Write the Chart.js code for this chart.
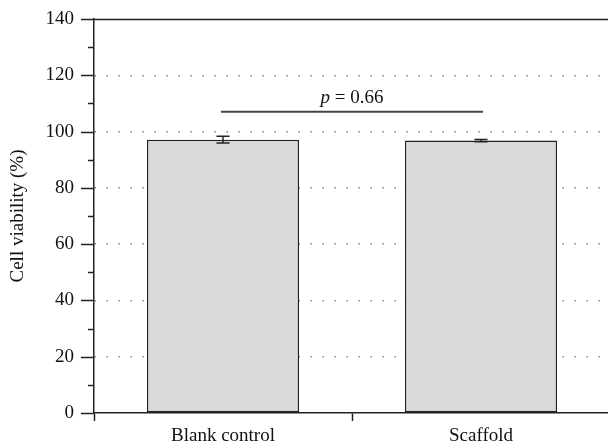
<!DOCTYPE html>
<html>
<head>
<meta charset="utf-8">
<script src="https://cdn.jsdelivr.net/npm/chart.js@4/dist/chart.umd.min.js"></script>
<style>
  html, body { margin: 0; padding: 0; background: #fff; overflow: hidden; }
  #wrap { width: 612px; height: 444px; }
</style>
</head>
<body>
<div id="wrap"><canvas id="chart"></canvas></div>
<script>
// data
const categories = ['Blank control', 'Scaffold'];
const viability = [97.1, 96.8];
const viabilityErr = [1.2, 0.4];
const yMin = 0;
const yMax = 140;
const pLevel = 107;
const pValue = '0.66';

const FONT = '"Liberation Serif", "Times New Roman", serif';
const INK = '#222';

// minor/major ticks on the left of the y axis, plus the solid top line
const axisTicks = {
    id: 'axisTicks',
    afterDraw(chart) {
        const { ctx, chartArea, scales: { y } } = chart;
        ctx.save();
        ctx.strokeStyle = INK;
        ctx.lineWidth = 1.5;
        for (let v = yMin; v <= yMax; v += 10) {
            const py = Math.round(y.getPixelForValue(v)) + 0.5;
            const len = v % 20 === 0 ? 13 : 6;
            ctx.beginPath();
            ctx.moveTo(chartArea.left - len, py);
            ctx.lineTo(chartArea.left, py);
            ctx.stroke();
        }
        const top = Math.round(y.getPixelForValue(yMax)) + 0.5;
        ctx.beginPath();
        ctx.moveTo(chartArea.left, top);
        ctx.lineTo(chartArea.right, top);
        ctx.stroke();
        ctx.restore();
    }
};

// error bars and the p-value bracket
const annotations = {
    id: 'annotations',
    afterDatasetsDraw(chart) {
        const { ctx, scales: { y } } = chart;
        const bars = chart.getDatasetMeta(0).data;
        ctx.save();
        ctx.strokeStyle = INK;
        ctx.lineWidth = 1.5;
        bars.forEach((bar, i) => {
            const hi = y.getPixelForValue(viability[i] + viabilityErr[i]);
            const lo = y.getPixelForValue(viability[i] - viabilityErr[i]);
            ctx.beginPath();
            ctx.moveTo(bar.x, hi);
            ctx.lineTo(bar.x, lo);
            ctx.moveTo(bar.x - 6.5, hi);
            ctx.lineTo(bar.x + 6.5, hi);
            ctx.moveTo(bar.x - 6.5, lo);
            ctx.lineTo(bar.x + 6.5, lo);
            ctx.stroke();
        });

        const py = y.getPixelForValue(pLevel);
        ctx.strokeStyle = '#444';
        ctx.lineWidth = 2;
        ctx.beginPath();
        ctx.moveTo(bars[0].x - 2, py);
        ctx.lineTo(bars[1].x + 2, py);
        ctx.stroke();

        // "p = 0.66" with italic p
        const cx = (bars[0].x + bars[1].x) / 2;
        const italic = 'italic 19px ' + FONT;
        const normal = '19px ' + FONT;
        ctx.font = italic;
        const w1 = ctx.measureText('p').width;
        ctx.font = normal;
        const rest = ' = ' + pValue;
        const w2 = ctx.measureText(rest).width;
        let x0 = cx - (w1 + w2) / 2;
        ctx.fillStyle = '#111';
        ctx.textBaseline = 'alphabetic';
        ctx.textAlign = 'left';
        ctx.font = italic;
        ctx.fillText('p', x0, py - 9);
        ctx.font = normal;
        ctx.fillText(rest, x0 + w1, py - 9);
        ctx.restore();
    }
};

new Chart(document.getElementById('chart'), {
    type: 'bar',
    data: {
        labels: categories,
        datasets: [{
            data: viability,
            backgroundColor: '#d9d9d9',
            borderColor: INK,
            borderWidth: 1.5,
            borderSkipped: false,
            barPercentage: 0.59,
            categoryPercentage: 1
        }]
    },
    options: {
        responsive: true,
        maintainAspectRatio: false,
        animation: false,
        layout: { padding: { top: 19, right: 2, left: 0, bottom: 0 } },
        plugins: {
            legend: { display: false },
            tooltip: { enabled: false }
        },
        scales: {
            x: {
                offset: true,
                afterFit(scale) { scale.height = 31; },
                grid: {
                    offset: true,
                    drawOnChartArea: false,
                    drawTicks: true,
                    tickLength: 8,
                    tickColor: INK,
                    tickWidth: 1.5
                },
                border: { display: true, color: INK, width: 1.5 },
                ticks: {
                    color: '#111',
                    padding: 4,
                    font: { family: FONT, size: 19 }
                }
            },
            y: {
                min: yMin,
                max: yMax,
                afterFit(scale) {
                    scale.width = 94;
                    scale.paddingTop = 0;
                    scale.paddingBottom = 0;
                },
                grid: {
                    drawTicks: false,
                    color: ctx => (ctx.tick && ctx.tick.value > 0 && ctx.tick.value < yMax) ? '#888' : 'rgba(0,0,0,0)',
                    lineWidth: 1.5
                },
                border: { display: true, color: INK, width: 1.5, dash: [1.5, 10.5] },
                ticks: {
                    stepSize: 20,
                    padding: 20,
                    color: '#111',
                    font: { family: FONT, size: 19 }
                },
                title: {
                    display: true,
                    text: 'Cell viability (%)',
                    color: '#111',
                    padding: { top: 7, bottom: 0 },
                    font: { family: FONT, size: 19 }
                }
            }
        }
    },
    plugins: [axisTicks, annotations]
});
</script>
</body>
</html>
